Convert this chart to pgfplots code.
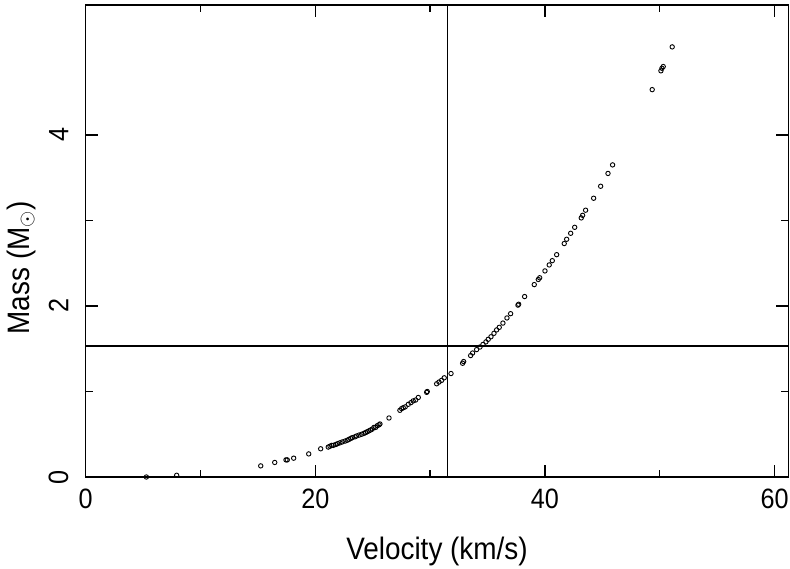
\documentclass[border=0pt]{standalone}
\usepackage{fontspec}
\setmainfont{Liberation Sans}[FakeStretch=0.9]
\usepackage{pgfplots}
\pgfplotsset{compat=1.18}
\begin{document}
\begin{tikzpicture}
\path[use as bounding box] (0,0) rectangle (790pt,569pt);
\begin{axis}[
  at={(85.6pt,92pt)}, anchor=south west,
  scale only axis, width=702.8pt, height=472pt,
  xmin=0, xmax=61.2, ymin=0, ymax=5.52,
  xtick={0,20,40,60}, ytick={0,2,4},
  minor x tick num=1, minor y tick num=1,
  major tick length=12pt, minor tick length=7pt,
  axis line style={line width=1.5pt},
  every tick/.style={black, line width=1.3pt},
  /pgf/number format/assume math mode=true,
  tick label style={font=\fontsize{28}{30}\selectfont, inner sep=0pt},
  xticklabel style={anchor=north},
  xticklabel shift=12pt,
  yticklabel style={rotate=90, anchor=south},
  yticklabel shift=17pt,
  xlabel={Velocity (km/s)},
  ylabel={Mass (M$_{\odot}$)},
  every axis x label/.style={at={(axis description cs:0.5,-0.127)}, anchor=north, inner sep=0pt, font=\fontsize{31}{33}\selectfont},
  every axis y label/.style={at={(axis description cs:-0.071,0.443)}, rotate=90, anchor=south, inner sep=0pt, font=\fontsize{31}{33}\selectfont},
]
\addplot[black, line width=1.5pt] coordinates {(31.5,0) (31.5,5.52)};
\addplot[black, line width=1.5pt] coordinates {(0,1.53) (61.2,1.53)};
\addplot[only marks, mark=o, mark size=2.2pt, mark options={line width=0.9pt, black}] coordinates {
(5.29,0.00) (7.93,0.02) (15.25,0.13) (16.47,0.17) (17.45,0.20) (17.56,0.20)
(18.12,0.22) (19.43,0.27) (20.47,0.33) (21.13,0.35) (21.28,0.36) (21.43,0.37)
(21.57,0.37) (21.78,0.38) (21.95,0.39) (22.15,0.40) (22.35,0.41) (22.59,0.42)
(22.79,0.43) (22.93,0.44) (23.08,0.45) (23.22,0.46) (23.46,0.47) (23.60,0.48)
(23.81,0.49) (24.04,0.50) (24.24,0.51) (24.39,0.52) (24.53,0.53) (24.68,0.54)
(24.82,0.55) (24.96,0.56) (25.11,0.58) (25.26,0.58) (25.40,0.60) (25.55,0.61)
(25.63,0.62) (26.42,0.69) (27.37,0.78) (27.52,0.80) (27.66,0.81) (27.83,0.82)
(28.10,0.85) (28.33,0.87) (28.53,0.89) (28.74,0.90) (28.97,0.93) (29.70,0.99)
(29.75,1.00) (30.57,1.09) (30.77,1.11) (31.00,1.13) (31.23,1.16) (31.82,1.21)
(32.83,1.33) (32.92,1.35) (33.53,1.42) (33.70,1.45) (34.05,1.49) (34.34,1.52)
(34.60,1.55) (34.86,1.58) (35.06,1.61) (35.30,1.64) (35.56,1.68) (35.79,1.72)
(36.02,1.75) (36.34,1.80) (36.69,1.86) (37.01,1.91) (37.65,2.01) (37.71,2.02)
(38.23,2.11) (39.07,2.25) (39.42,2.31) (39.54,2.33) (40.00,2.41) (40.37,2.48)
(40.64,2.53) (41.02,2.60) (41.68,2.73) (41.89,2.78) (42.24,2.85) (42.59,2.92)
(43.16,3.03) (43.28,3.06) (43.54,3.12) (44.24,3.26) (44.85,3.40) (45.49,3.55)
(45.89,3.65) (49.34,4.53) (50.10,4.75) (50.19,4.78) (50.30,4.80) (51.08,5.03)
};
\end{axis}
\end{tikzpicture}
\end{document}
